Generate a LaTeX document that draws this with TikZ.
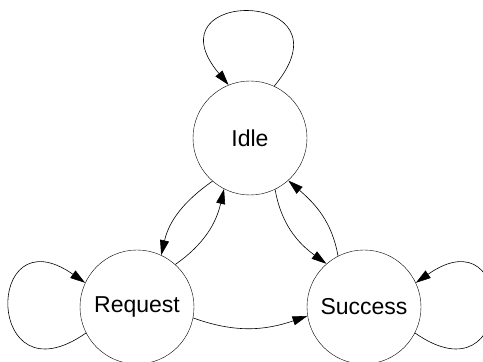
\documentclass[tikz,border=0pt]{standalone}
\usepackage{fontspec}
\setmainfont{Liberation Sans}
\usetikzlibrary{arrows.meta}

\begin{document}
\begin{tikzpicture}[x=1pt,y=1pt,
    state/.style={circle,draw,minimum size=114pt,inner sep=0pt,
                  font=\fontsize{23}{27}\selectfont},
    link/.style={semithick,-{Triangle[length=15pt,width=9pt]}}]
            \useasboundingbox (0,0) rectangle (483,362);

            \node[state] (idle)    at (250,224) {Idle};
            \node[state] (request) at (137,55)  {Request};
            \node[state] (success) at (364,55)  {Success};

            % self loops
            \draw[link] (idle.65) .. controls +(50:128) and +(130:128) .. (idle.112);
            \draw[link] (request.207) .. controls +(215:124) and +(145:124) .. (request.155);
            \draw[link] (success.333) .. controls +(-35:124) and +(35:124) .. (success.25);

            \draw[link] (idle.229) to[out=215,in=77] (request.65);
            \draw[link] (request.48) to[out=35,in=257] (idle.243);
            \draw[link] (idle.296) to[out=280,in=144] (success.131);
            \draw[link] (success.117) to[out=100,in=319] (idle.312);
            \draw[link] (request.349) to[out=-20,in=199] (success.189);
        \end{tikzpicture}
\end{document}
